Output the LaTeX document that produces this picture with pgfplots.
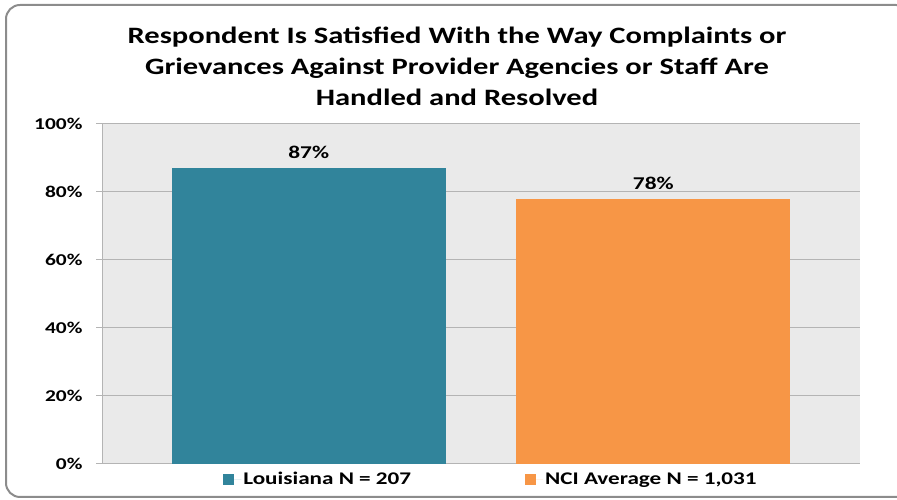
\documentclass[border=0pt]{standalone}
\usepackage{pgfplots}
\pgfplotsset{compat=1.18}
\usepackage{fontspec}
\setmainfont{Carlito}[FakeStretch=1.3]
\definecolor{teal}{HTML}{31849B}
\definecolor{orng}{HTML}{F79646}
\definecolor{bgg}{HTML}{EAEAEA}
\definecolor{gridg}{HTML}{B4B4B4}
\definecolor{frameg}{HTML}{8C8C8C}
\begin{document}
\begin{tikzpicture}[x=1bp,y=1bp]
\path[use as bounding box] (0,0) rectangle (897,500);
\draw[frameg,line width=2bp,rounded corners=14bp] (6,3) rectangle (910,495);
\node[font=\bfseries\fontsize{23.5bp}{31bp}\selectfont,align=center,anchor=center] at (457,434)
{Respondent Is Satisfied With the Way Complaints or\\Grievances Against Provider Agencies or Staff Are\\Handled and Resolved};
\begin{axis}[
  at={(102bp,36bp)}, anchor=south west,
  scale only axis, width=758bp, height=340bp,
  xmin=-0.6, xmax=1.6, ymin=0, ymax=100,
  xtick=\empty,
  ytick={0,20,40,60,80,100},
  /pgf/number format/assume math mode=true,
  yticklabel={\pgfmathprintnumber{\tick}\%},
  ticklabel style={font=\bfseries\fontsize{16.5bp}{18bp}\selectfont},
  yticklabel style={xshift=-10bp},
  ymajorgrids, grid style={gridg,line width=1bp},
  axis line style={gridg,line width=1bp},
  axis x line*=bottom, axis y line*=left,
  y axis line style={-}, x axis line style={-},
  tick style={gridg,line width=1bp},
  tick align=outside, major tick length=6bp,
  axis background/.style={fill=bgg},
  ybar, bar width=274bp, bar shift=0pt,
  nodes near coords={\pgfmathprintnumber{\pgfplotspointmeta}\%},
  nodes near coords style={font=\bfseries\fontsize{18bp}{20bp}\selectfont,/pgf/number format/assume math mode=true, yshift=6bp},
  legend style={at={(0.5,-0.012)},anchor=north,xshift=10bp,draw=none,fill=none,
    legend columns=2, font=\bfseries\fontsize{17.8bp}{20bp}\selectfont,
    /tikz/every even column/.append style={column sep=112bp}},
  legend image code/.code={\fill[#1] (0bp,-5.5bp) rectangle (11bp,5.5bp);\path (0bp,0bp) -- (18bp,0bp);},
]
\addplot[fill=teal,draw=none] coordinates {(0,87)};
\addplot[fill=orng,draw=none] coordinates {(1,78)};
\legend{Louisiana N = 207,{NCI Average N = 1,031}}
\end{axis}
\end{tikzpicture}
\end{document}
